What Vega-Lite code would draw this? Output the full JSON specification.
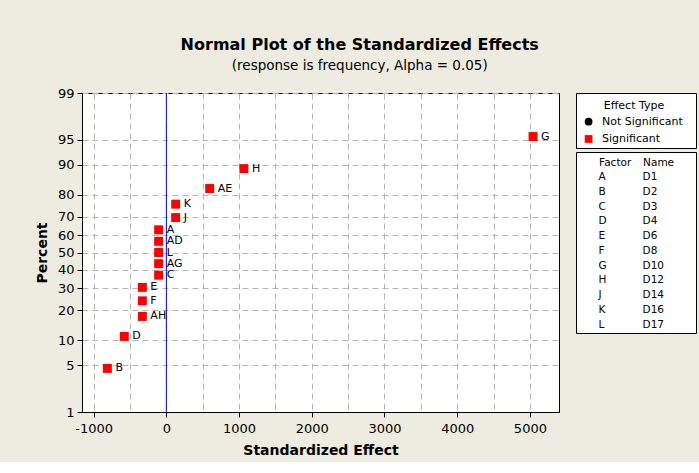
{
  "$schema": "https://vega.github.io/schema/vega-lite/v6.json",
  "background": "#EEEBE1",
  "padding": {"left": 34, "top": 36, "right": 2, "bottom": 4},
  "title": {
    "text": "Normal Plot of the Standardized Effects",
    "subtitle": "(response is frequency, Alpha = 0.05)",
    "anchor": "middle",
    "dx": -6,
    "fontSize": 16,
    "fontWeight": "bold",
    "font": "DejaVu Sans",
    "color": "black",
    "subtitleFont": "DejaVu Sans",
    "subtitleFontSize": 13.5,
    "subtitleColor": "black",
    "subtitlePadding": 6,
    "offset": 14.5
  },
  "bounds": "flush",
  "spacing": 17,
  "hconcat": [
    {
      "width": 477,
      "height": 319,
      "view": {"fill": "white", "stroke": "black"},
      "layer": [
        {
          "data": {"values": [{"reference": 0}]},
          "mark": {"type": "rule", "color": "#0000E0", "strokeWidth": 1},
          "encoding": {
            "x": {"field": "reference", "type": "quantitative"}
          }
        },
        {
          "data": {"name": "effects"},
          "mark": {"type": "point", "filled": true, "opacity": 1, "size": 80},
          "encoding": {
            "x": {"field": "effect", "type": "quantitative"},
            "y": {"field": "score", "type": "quantitative"},
            "shape": {"field": "type", "type": "nominal", "scale": {"domain": ["Not Significant", "Significant"], "range": ["circle", "square"]}, "legend": null},
            "color": {"field": "type", "type": "nominal", "scale": {"domain": ["Not Significant", "Significant"], "range": ["black", "#FF0000"]}, "legend": null}
          }
        },
        {
          "data": {"name": "effects"},
          "mark": {"type": "text", "align": "left", "baseline": "middle", "dx": 8, "fontSize": 11, "font": "DejaVu Sans", "color": "black"},
          "encoding": {
            "x": {"field": "effect", "type": "quantitative"},
            "y": {"field": "score", "type": "quantitative"},
            "text": {"field": "factor"}
          }
        }
      ],
      "encoding": {
        "x": {
          "type": "quantitative",
          "scale": {"domain": [-1160, 5400], "nice": false, "zero": false},
          "axis": {
            "title": "Standardized Effect",
            "values": [-1000, -500, 0, 500, 1000, 1500, 2000, 2500, 3000, 3500, 4000, 4500, 5000],
            "labelExpr": "datum.value % 1000 === 0 ? '' + datum.value : ''",
            "tickOpacity": {"condition": {"test": "datum.value % 1000 !== 0", "value": 0}, "value": 1},
            "tickSize": 5,
            "labelPadding": 5,
            "titlePadding": 8.5,
            "grid": true
          }
        },
        "y": {
          "type": "quantitative",
          "scale": {"domain": [-2.3263, 2.3263], "nice": false, "zero": false},
          "axis": {
            "title": "Percent",
            "values": [-2.3263, -1.6449, -1.2816, -0.8416, -0.5244, -0.2533, 0, 0.2533, 0.5244, 0.8416, 1.2816, 1.6449, 2.3263],
            "labelExpr": "format(cumulativeNormal(datum.value) * 100, '.0f')",
            "tickSize": 5,
            "labelPadding": 3,
            "titlePadding": 8,
            "grid": true
          }
        }
      }
    },
    {
      "spacing": 4,
      "bounds": "flush",
      "vconcat": [
        {
          "width": 120,
          "height": 55,
          "view": {"fill": "white", "stroke": "black"},
          "title": {"text": "Effect Type", "fontSize": 11, "fontWeight": "normal", "font": "DejaVu Sans", "color": "black", "anchor": "middle", "dx": -2, "offset": -24, "baseline": "middle"},
          "data": {"values": [{"type": "Not Significant"}, {"type": "Significant"}]},
          "layer": [
            {
              "mark": {"type": "point", "filled": true, "opacity": 1},
              "encoding": {
                "x": {"datum": "symbol", "type": "nominal"},
                "y": {"field": "type", "type": "nominal"},
                "shape": {"field": "type", "type": "nominal", "scale": {"domain": ["Not Significant", "Significant"], "range": ["circle", "square"]}, "legend": null},
                "color": {"field": "type", "type": "nominal", "scale": {"domain": ["Not Significant", "Significant"], "range": ["black", "#FF0000"]}, "legend": null},
                "size": {"value": 60}
              }
            },
            {
              "mark": {"type": "text", "align": "left", "baseline": "middle", "fontSize": 11, "font": "DejaVu Sans", "color": "black"},
              "encoding": {
                "x": {"datum": "label", "type": "nominal"},
                "y": {"field": "type", "type": "nominal"},
                "text": {"field": "type"}
              }
            }
          ],
          "encoding": {
            "x": {"type": "nominal", "scale": {"type": "point", "padding": 0, "domain": ["symbol", "label"], "range": [12.6, 26]}, "axis": null},
            "y": {"type": "nominal", "scale": {"type": "point", "padding": 0, "domain": ["Not Significant", "Significant"], "range": [28.7, 46]}, "axis": null}
          }
        },
        {
          "width": 120,
          "height": 181,
          "view": {"fill": "white", "stroke": "black"},
          "data": {"values": [
            {"Factor": "A", "Name": "D1"},
            {"Factor": "B", "Name": "D2"},
            {"Factor": "C", "Name": "D3"},
            {"Factor": "D", "Name": "D4"},
            {"Factor": "E", "Name": "D6"},
            {"Factor": "F", "Name": "D8"},
            {"Factor": "G", "Name": "D10"},
            {"Factor": "H", "Name": "D12"},
            {"Factor": "J", "Name": "D14"},
            {"Factor": "K", "Name": "D16"},
            {"Factor": "L", "Name": "D17"}
          ]},
          "layer": [
            {
              "mark": {"type": "text", "align": "left", "baseline": "middle", "fontSize": 10.5, "font": "DejaVu Sans", "color": "black"},
              "encoding": {
                "x": {"datum": "Factor", "type": "nominal"},
                "y": {"field": "Factor", "type": "nominal"},
                "text": {"field": "Factor"}
              }
            },
            {
              "mark": {"type": "text", "align": "left", "baseline": "middle", "fontSize": 10.5, "font": "DejaVu Sans", "color": "black"},
              "encoding": {
                "x": {"datum": "Name", "type": "nominal"},
                "y": {"field": "Factor", "type": "nominal"},
                "text": {"field": "Name"}
              }
            }
          ],
          "encoding": {
            "x": {
              "type": "nominal",
              "scale": {"type": "point", "padding": 0, "domain": ["Factor", "Name"], "range": [22.6, 66.6]},
              "axis": {"orient": "top", "title": null, "domain": false, "ticks": false, "grid": false, "labelAlign": "left", "labelBaseline": "middle", "labelPadding": -10.6, "labelFontSize": 10.5, "labelAngle": 0}
            },
            "y": {"type": "nominal", "scale": {"type": "point", "padding": 0, "domain": ["A", "B", "C", "D", "E", "F", "G", "H", "J", "K", "L"], "range": [25.3, 172.6]}, "axis": null}
          }
        }
      ]
    }
  ],
  "datasets": {
    "effects": [
      {"factor": "B", "effect": -811, "score": -1.691, "type": "Significant"},
      {"factor": "D", "effect": -578, "score": -1.224, "type": "Significant"},
      {"factor": "AH", "effect": -330, "score": -0.933, "type": "Significant"},
      {"factor": "F", "effect": -330, "score": -0.705, "type": "Significant"},
      {"factor": "E", "effect": -330, "score": -0.509, "type": "Significant"},
      {"factor": "C", "effect": -106, "score": -0.331, "type": "Significant"},
      {"factor": "AG", "effect": -106, "score": -0.163, "type": "Significant"},
      {"factor": "L", "effect": -106, "score": 0, "type": "Significant"},
      {"factor": "AD", "effect": -106, "score": 0.163, "type": "Significant"},
      {"factor": "A", "effect": -106, "score": 0.331, "type": "Significant"},
      {"factor": "J", "effect": 128, "score": 0.509, "type": "Significant"},
      {"factor": "K", "effect": 128, "score": 0.705, "type": "Significant"},
      {"factor": "AE", "effect": 596, "score": 0.933, "type": "Significant"},
      {"factor": "H", "effect": 1067, "score": 1.224, "type": "Significant"},
      {"factor": "G", "effect": 5043, "score": 1.691, "type": "Significant"}
    ]
  },
  "config": {
    "font": "DejaVu Sans",
    "axis": {
      "labelFont": "DejaVu Sans",
      "labelFontSize": 13,
      "labelColor": "black",
      "titleFont": "DejaVu Sans",
      "titleFontSize": 14,
      "titleFontWeight": "bold",
      "titleColor": "black",
      "domainColor": "black",
      "tickColor": "black",
      "gridColor": "#b4b4b4",
      "gridDash": [6, 4],
      "gridWidth": 1
    },
    "view": {"stroke": "black"}
  }
}
